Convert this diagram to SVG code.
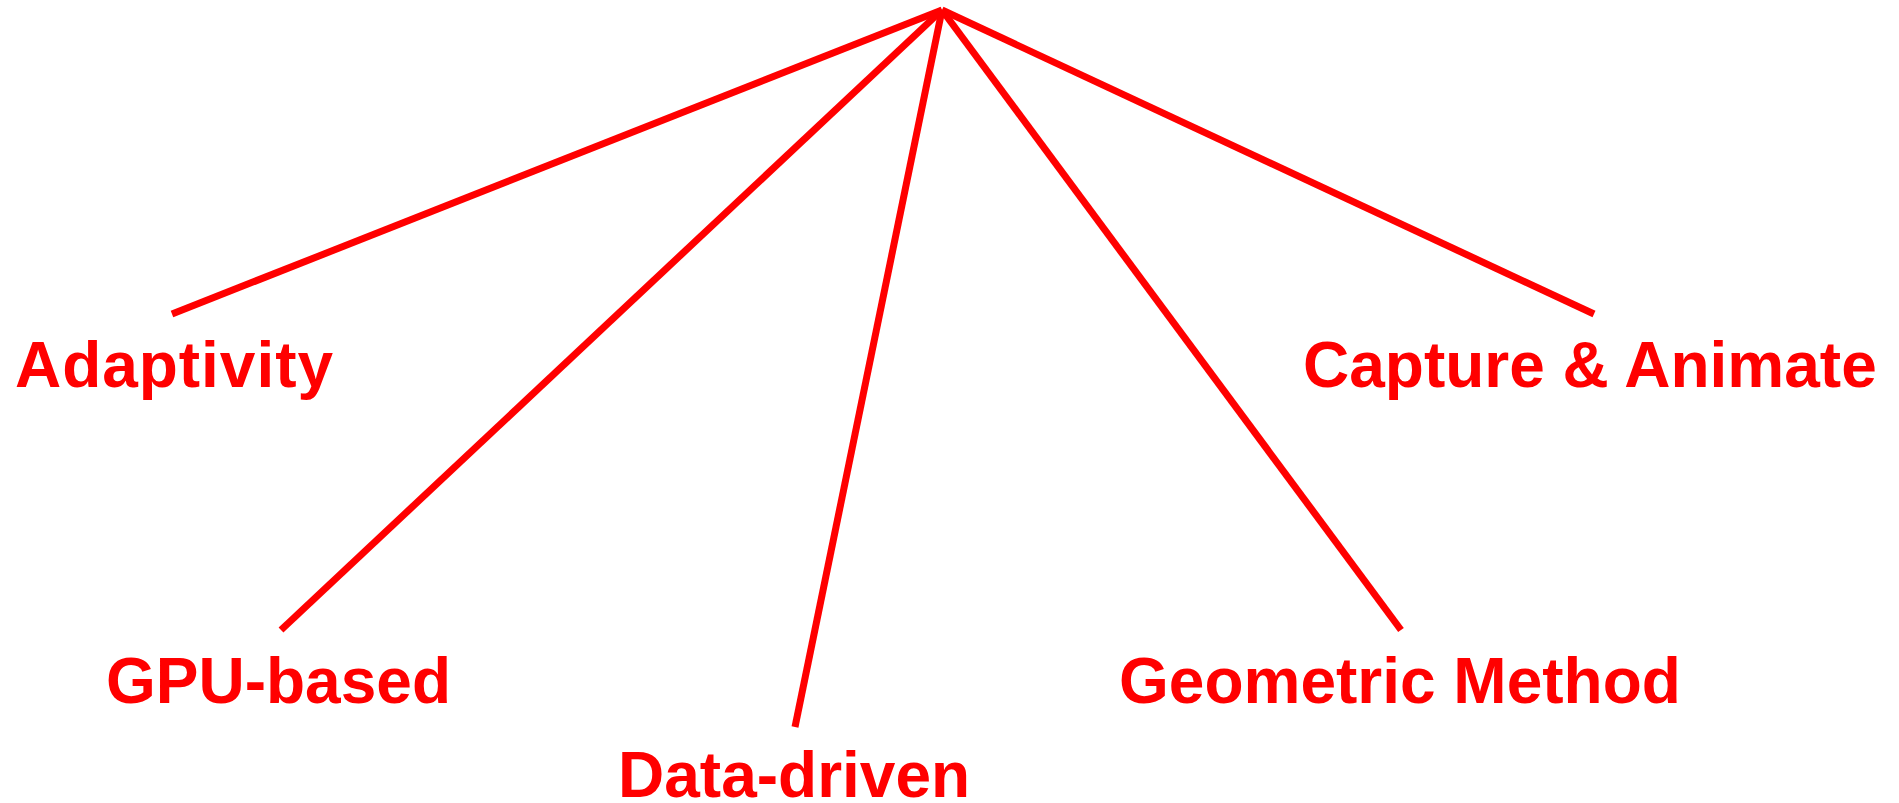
<svg xmlns="http://www.w3.org/2000/svg" width="1899" height="803" viewBox="0 0 1899 803">
<style>
.lbl{font-family:"Liberation Sans",Arial,sans-serif;font-weight:bold;font-size:64px;fill:#ff0000}
.ln{stroke:#ff0000;stroke-width:7;fill:none;stroke-linecap:butt}
</style>
<rect width="1899" height="803" fill="#ffffff"/>
<g id="connectors">
<line class="ln" x1="942" y1="10" x2="172" y2="314"/>
<line class="ln" x1="942" y1="10" x2="281" y2="630"/>
<line class="ln" x1="942" y1="10" x2="795" y2="727"/>
<line class="ln" x1="942" y1="10" x2="1401" y2="630"/>
<line class="ln" x1="942" y1="10" x2="1594" y2="314"/>
</g>
<g id="adaptivity"><text class="lbl" x="15" y="387" textLength="318" lengthAdjust="spacing">Adaptivity</text></g>
<g id="gpu-based"><text class="lbl" x="106" y="703">GPU-based</text></g>
<g id="data-driven"><text class="lbl" x="618" y="797">Data-driven</text></g>
<g id="geometric-method"><text class="lbl" x="1119" y="703">Geometric Method</text></g>
<g id="capture-animate"><text class="lbl" x="1303" y="387">Capture &amp; Animate</text></g>
</svg>
